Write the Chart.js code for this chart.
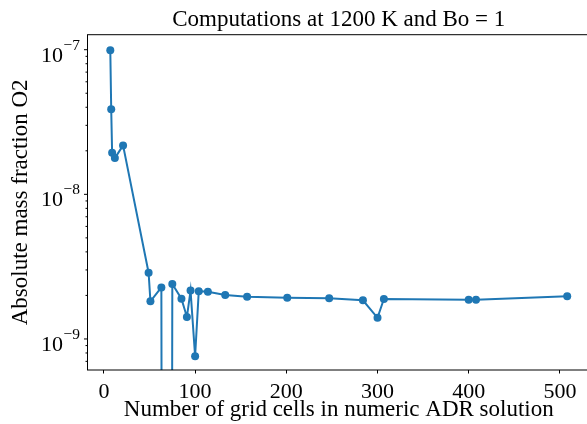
<!DOCTYPE html>
<html>
<head>
<meta charset="utf-8">
<script src="https://cdn.jsdelivr.net/npm/chart.js@4.4.1/dist/chart.umd.min.js"></script>
<style>
  html, body { margin: 0; padding: 0; background: #fff; overflow: hidden; }
  #wrap { width: 587px; height: 424px; overflow: hidden; }
</style>
</head>
<body>
<div id="wrap"><canvas id="chart" width="604" height="424"></canvas></div>
<script>
// grid cell counts and the O2 error (0 = non-positive, clipped like matplotlib)
const xCells = [7, 8, 9, 12, 21, 49, 51, 63, 69, 75, 85, 91, 95, 100, 104, 114, 133, 157, 201, 247, 284, 300, 307, 400, 408, 508];
const massFractionO2 = [9.9e-8, 3.87e-8, 1.94e-8, 1.78e-8, 2.18e-8, 2.87e-9, 1.82e-9, 2.27e-9, 0, 2.4e-9, 1.9e-9, 1.42e-9, 2.16e-9, 7.6e-10, 2.14e-9, 2.12e-9, 2.01e-9, 1.96e-9, 1.93e-9, 1.91e-9, 1.85e-9, 1.40e-9, 1.89e-9, 1.87e-9, 1.87e-9, 1.97e-9];

const xTicks = [0, 100, 200, 300, 400, 500];
const yExponents = [-9, -8, -7];
const yMinorDecades = [-10, -9, -8, -7];
const yMinorSteps = [2, 3, 4, 5, 6, 7, 8, 9];

const Y_MIN = 6.1e-10, Y_MAX = 1.27e-7;
const CLIP_FLOOR = 1e-30;
const FONT = 'Liberation Serif';

const yMinor = [];
yMinorDecades.forEach(e => yMinorSteps.forEach(m => {
  const v = m * Math.pow(10, e);
  if (v >= Y_MIN && v <= Y_MAX) yMinor.push(v);
}));

const axesFrame = {
  id: 'axesFrame',
  afterDraw(chart) {
    const { ctx, chartArea: a, scales: { y } } = chart;
    ctx.save();
    ctx.strokeStyle = '#000';
    ctx.lineWidth = 1;
    ctx.strokeRect(a.left, a.top, a.right - a.left, a.bottom - a.top);

    ctx.beginPath();
    yMinor.forEach(v => {
      const py = y.getPixelForValue(v);
      ctx.moveTo(a.left - 2, py);
      ctx.lineTo(a.left, py);
    });
    yExponents.forEach(e => {
      const py = y.getPixelForValue(Math.pow(10, e));
      ctx.moveTo(a.left - 3.5, py);
      ctx.lineTo(a.left, py);
    });
    ctx.stroke();

    // 10^n labels, drawn as base + raised exponent
    ctx.fillStyle = '#000';
    ctx.textAlign = 'right';
    ctx.textBaseline = 'alphabetic';
    yExponents.forEach(e => {
      const py = y.getPixelForValue(Math.pow(10, e));
      const exp = '\u2212' + Math.abs(e);
      const right = a.left - 7.5;
      ctx.font = '15.5px "' + FONT + '"';
      ctx.fillText(exp, right, py);
      const w = ctx.measureText(exp).width;
      ctx.font = '22px "' + FONT + '"';
      ctx.fillText('10', right - w - 0.5, py + 12);
    });
    ctx.restore();
  }
};

new Chart(document.getElementById('chart'), {
  type: 'line',
  data: {
    datasets: [{
      data: xCells.map((x, i) => ({ x, y: massFractionO2[i] > 0 ? massFractionO2[i] : CLIP_FLOOR })),
      borderColor: '#1f77b4',
      backgroundColor: '#1f77b4',
      borderWidth: 2,
      pointRadius: 4,
      pointBorderWidth: 0,
      pointBackgroundColor: '#1f77b4',
      tension: 0
    }]
  },
  options: {
    responsive: false,
    animation: false,
    devicePixelRatio: 1,
    layout: { padding: { left: 0, right: 14, top: 0, bottom: 0 } },
    plugins: {
      legend: { display: false },
      tooltip: { enabled: false },
      title: {
        display: true,
        fullSize: false,
        text: 'Computations at 1200 K and Bo = 1',
        color: '#000',
        font: { family: FONT, size: 23, weight: 'normal', lineHeight: 1.2 },
        padding: { top: 6, bottom: 1.1 }
      }
    },
    scales: {
      x: {
        type: 'linear',
        min: -18,
        max: 533,
        bounds: 'data',
        afterBuildTicks: s => { s.ticks = xTicks.map(v => ({ value: v })); },
        afterFit: s => { s.height = 54; },
        grid: { drawOnChartArea: false, drawTicks: true, tickLength: 3.5, tickColor: '#000', tickWidth: 1 },
        border: { display: false },
        ticks: { color: '#000', font: { family: FONT, size: 22 }, padding: 5.5, maxRotation: 0, autoSkip: false },
        title: {
          display: true,
          text: 'Number of grid cells in numeric ADR solution',
          color: '#000',
          font: { family: FONT, size: 23, lineHeight: 1 },
          padding: { top: 0, bottom: 3 }
        }
      },
      y: {
        type: 'logarithmic',
        min: Y_MIN,
        max: Y_MAX,
        bounds: 'data',
        afterFit: s => { s.width = 87.5; },
        grid: { display: false },
        border: { display: false },
        ticks: { display: false },
        title: {
          display: true,
          text: 'Absolute mass fraction O2',
          color: '#000',
          font: { family: FONT, size: 23, lineHeight: 1.2 },
          padding: { top: 7.6, bottom: 0 }
        }
      }
    }
  },
  plugins: [axesFrame]
});
</script>
</body>
</html>
